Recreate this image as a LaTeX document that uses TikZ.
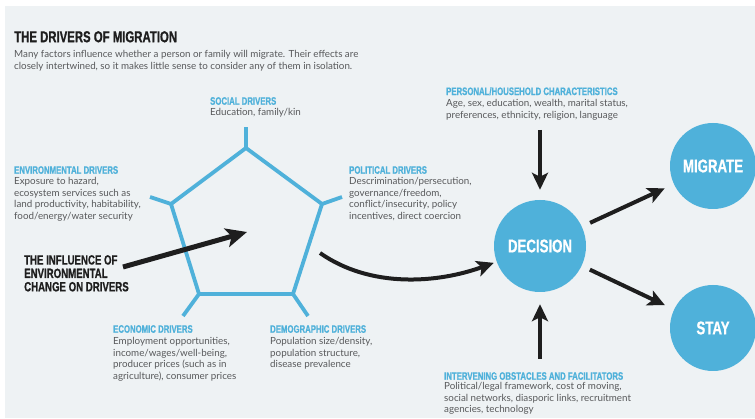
\documentclass[tikz,border=0pt]{standalone}
\usepackage{fontspec}
\setmainfont{Lato}
\newfontfamily\cnd[FakeStretch=0.72,FakeBold=0.8]{Liberation Sans}
\usetikzlibrary{arrows.meta,calc}
\definecolor{bg}{HTML}{EEF2F4}
\definecolor{blu}{HTML}{4FB1DA}
\definecolor{txt}{HTML}{58595B}
\definecolor{ink}{HTML}{1E1E1E}
\begin{document}
\begin{tikzpicture}[x=1pt,y=-1pt,
  head/.style={anchor=north west,inner sep=0pt,font=\cnd\bfseries\fontsize{10.8}{12}\selectfont,text=blu},
  body/.style={anchor=north west,inner sep=0pt,align=left,font=\fontsize{9.8}{11.6}\selectfont,text=txt},
  bigtitle/.style={anchor=north west,inner sep=0pt,font=\cnd\bfseries\fontsize{15.8}{18}\selectfont,text=ink},
  infl/.style={anchor=north west,inner sep=0pt,align=left,font=\cnd\bfseries\fontsize{13.4}{13.4}\selectfont,text=ink},
  pent/.style={draw=blu,line width=3.8pt,line join=miter},
  circ/.style={circle,fill=blu,draw=none,inner sep=0pt,text=white,font=\cnd\bfseries\fontsize{18.4}{20}\selectfont},
  arr/.style={draw=ink,line width=4pt,-{Stealth[length=17pt,width=16pt,inset=4pt]}},
  bigarr/.style={draw=ink,line width=5pt,-{Stealth[length=21pt,width=19pt,inset=5pt]}}]
\useasboundingbox (0,0) rectangle (755,419);
\fill[white] (0,0) rectangle (755,419);
\fill[bg] (5,6) rectangle (755,418);

% title
\node[bigtitle] (title) at (14,31) {THE DRIVERS OF MIGRATION};
\node[body] (sub) at (14,50) {Many factors influence whether a person or family will migrate. Their effects are\\closely intertwined, so it makes little sense to consider any of them in isolation.};

% pentagon
\coordinate (vt) at (246,148);
\coordinate (vur) at (322,204);
\coordinate (vlr) at (293,294);
\coordinate (vll) at (199,294);
\coordinate (vul) at (171,204);
\draw[pent] (vt) -- (vur) -- (vlr) -- (vll) -- (vul) -- cycle;
\draw[pent,line cap=butt] (vt) -- (246,127);
\draw[pent] (vur) -- (342,197);
\draw[pent] (vul) -- (150,197);
\draw[pent] (vll) -- (183,316);
\draw[pent] (vlr) -- (308,316);

% drivers
\node[head] (soch) at (210,97) {SOCIAL DRIVERS};
\node[body] (socb) at (210,108) {Education, family/kin};
\node[head] (envh) at (14,166) {ENVIRONMENTAL DRIVERS};
\node[body] (envb) at (14,177) {Exposure to hazard,\\ecosystem services such as\\land productivity, habitability,\\food/energy/water security};
\node[head] (polh) at (349,166) {POLITICAL DRIVERS};
\node[body] (polb) at (349,177) {Descrimination/persecution,\\governance/freedom,\\conflict/insecurity, policy\\incentives, direct coercion};
\node[head] (ecoh) at (113,325) {ECONOMIC DRIVERS};
\node[body] (ecob) at (113,337) {Employment opportunities,\\income/wages/well-being,\\producer prices (such as in\\agriculture), consumer prices};
\node[head] (demh) at (270,325) {DEMOGRAPHIC DRIVERS};
\node[body] (demb) at (270,337) {Population size/density,\\population structure,\\disease prevalence};

% influence
\node[infl] (infl) at (24,255) {THE INFLUENCE OF\\ENVIRONMENTAL\\CHANGE ON DRIVERS};
\coordinate (inflS) at (123,267);
\coordinate (inflE) at (247,232);
\draw[bigarr] (inflS) -- (inflE);

% decision side
\node[head] (perh) at (446,87) {PERSONAL/HOUSEHOLD CHARACTERISTICS};
\node[body] (perb) at (446,99) {Age, sex, education, wealth, marital status,\\preferences, ethnicity, religion, language};
\node[head] (inth) at (444,372) {INTERVENING OBSTACLES AND FACILITATORS};
\node[body] (intb) at (444,382) {Political/legal framework, cost of moving,\\social networks, diasporic links, recruitment\\agencies, technology};

\node[circ,minimum size=92pt] (dec) at (540,246) {DECISION};
\node[circ,minimum size=86pt] (mig) at (713,166) {MIGRATE};
\node[circ,minimum size=86pt] (stay) at (713,328) {STAY};

\coordinate (perS) at (540,130);
\coordinate (intS) at (540,359);
\coordinate (pentOut) at (320,253);
\draw[arr,shorten >=10pt] (perS) -- (dec);
\draw[arr,shorten >=12pt] (intS) -- (dec);
\draw[arr,shorten <=9pt,shorten >=10pt] (dec) -- (mig);
\draw[arr,shorten <=9pt,shorten >=10pt] (dec) -- (stay);
\draw[arr,shorten >=3pt] (pentOut) to[out=-35,in=200,looseness=0.9] (dec);
\end{tikzpicture}
\end{document}
